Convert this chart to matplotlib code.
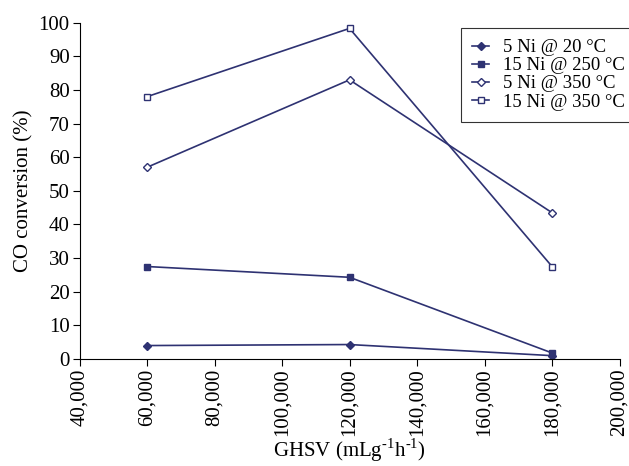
import matplotlib
matplotlib.use("Agg")
import matplotlib.pyplot as plt
from matplotlib.ticker import FuncFormatter

plt.rcParams["font.family"] = ["Liberation Serif", "DejaVu Serif"]
plt.rcParams["mathtext.fontset"] = "custom"
plt.rcParams["mathtext.rm"] = "Liberation Serif"

# data
ghsv = [60000, 120000, 180000]
ni5_20 = [4.0, 4.3, 1.0]
ni15_250 = [27.5, 24.3, 1.8]
ni5_350 = [57.0, 83.0, 43.5]
ni15_350 = [78.0, 98.3, 27.5]
labels = ["5 Ni @ 20 °C", "15 Ni @ 250 °C", "5 Ni @ 350 °C", "15 Ni @ 350 °C"]

col = "#2e3272"

fig = plt.figure(figsize=(6.29, 4.66), dpi=100)
ax = fig.add_axes([0.1264, 0.2296, 0.8586, 0.7217])

ax.plot(ghsv, ni5_20, color=col, lw=1.2, marker="D", ms=4, label=labels[0])
ax.plot(ghsv, ni15_250, color=col, lw=1.2, marker="s", ms=5, label=labels[1])
ax.plot(ghsv, ni5_350, color=col, lw=1.2, marker="D", ms=4, mfc="white", mew=1, label=labels[2])
ax.plot(ghsv, ni15_350, color=col, lw=1.2, marker="s", ms=5, mfc="white", mew=1, label=labels[3])

ax.set_xlim(40000, 200000)
ax.set_ylim(0, 100)
ax.set_xticks(range(40000, 200001, 20000))
ax.set_yticks(range(0, 101, 10))
ax.xaxis.set_major_formatter(FuncFormatter(lambda v, p: f"{int(v):,}"))
for lab in ax.get_xticklabels():
    lab.set_rotation(90)
ax.tick_params(labelsize=15, direction="out", length=5, color="black", pad=2)
ax.spines["top"].set_visible(False)
ax.spines["right"].set_visible(False)

ax.set_xlabel(r"GHSV (mLg$^{\text{-1}}$h$^{\text{-1}}$)", fontsize=15, labelpad=0)
ax.set_ylabel("CO conversion (%)", fontsize=15, labelpad=4)

leg = ax.legend(loc="upper left", bbox_to_anchor=(0.733, 0.940), bbox_transform=fig.transFigure,
                fontsize=13.5, frameon=True, fancybox=False, edgecolor="black",
                handlelength=0.9, handletextpad=0.75, labelspacing=0.05, borderpad=0.6,
                borderaxespad=0)
leg.get_frame().set_linewidth(0.8)

fig.savefig("out.png", dpi=100)
